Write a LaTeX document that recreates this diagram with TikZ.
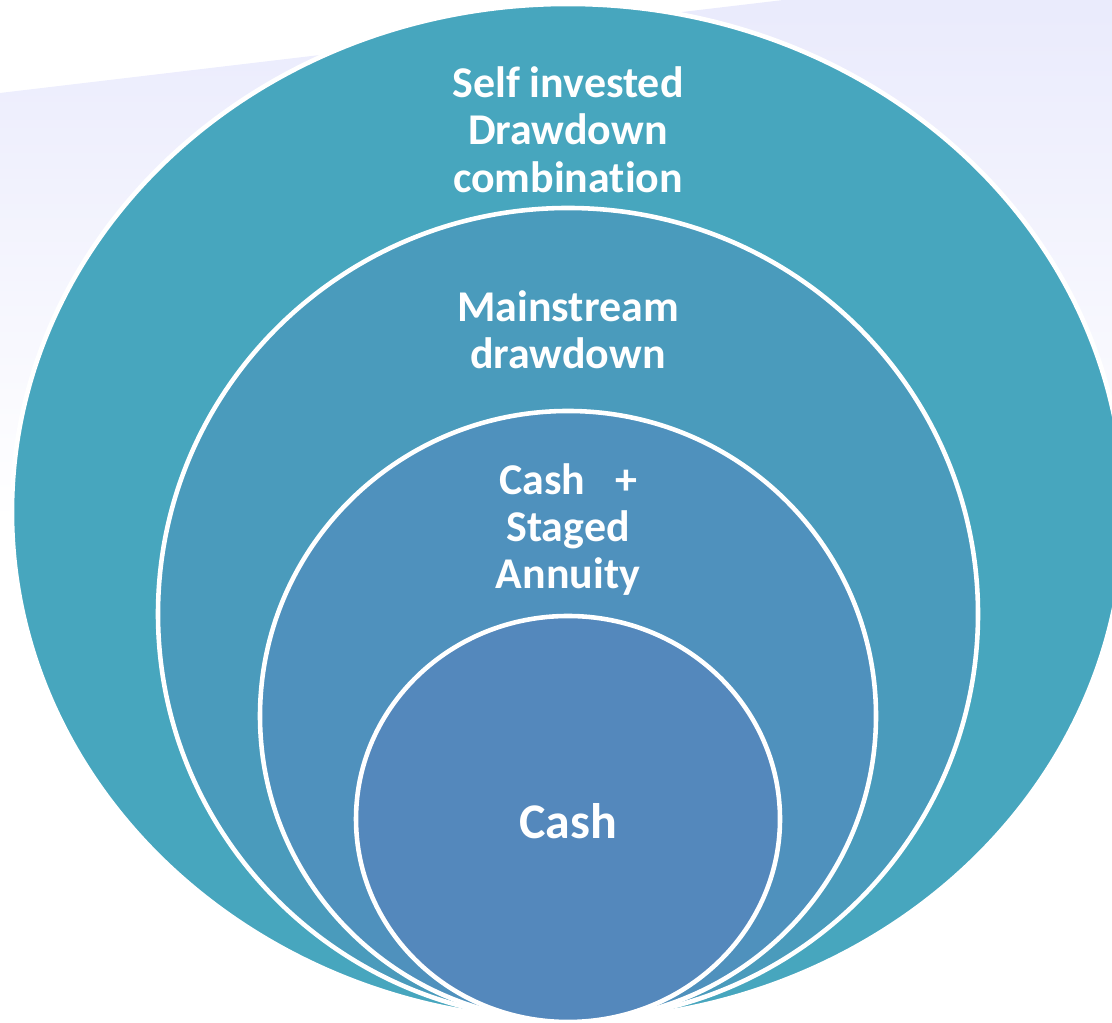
\documentclass[tikz,border=0pt]{standalone}
\usepackage{fontspec}
\setmainfont{Carlito}[Ligatures=NoCommon]
\usetikzlibrary{shapes.geometric,positioning}

\definecolor{haze}{HTML}{E8E9FC}
\definecolor{ringA}{HTML}{47A6BE}
\definecolor{ringB}{HTML}{4A9BBC}
\definecolor{ringC}{HTML}{4F91BD}
\definecolor{ringD}{HTML}{5488BC}

\begin{document}
\begin{tikzpicture}[%
    font=\bfseries,             % Bold labels throughout
    ]
% -------------------------------------------------
% Ring and label styles
\tikzset{
  ring/.style={ellipse, draw=white, inner sep=0pt, line width=1.3pt},
  lbl/.style={text=white, align=center, inner sep=0pt,
    font={\bfseries\fontsize{12.5}{13.4}\selectfont}},
  big/.style={text=white, font={\bfseries\fontsize{14.2}{15}\selectfont}}
}
\useasboundingbox (0,0) rectangle (11.12,10.23);
\clip (0,0) rectangle (11.12,10.23);
% -------------------------------------------------
% Backdrop sweep
\shade [top color=haze, bottom color=white]
  (0,9.30) -- (11.12,10.62) -- (11.12,5.0) -- (0,5.0) -- cycle;

% Rings, outermost first; all share the same bottom point
\node [ring, fill=ringA, minimum width=11.12cm, minimum height=10.16cm]
  (sipp) at (5.68,5.11) {};
\node [ring, fill=ringB, minimum width=8.20cm, minimum height=8.12cm]
  (main) at (5.68,4.09) {};
\node [ring, fill=ringC, minimum width=6.16cm, minimum height=6.10cm]
  (staged) at (5.68,3.07) {};
\node [ring, fill=ringD, minimum width=4.24cm, minimum height=4.06cm]
  (cash) at (5.68,2.04) {};

% Labels
\node [lbl] (sipptext) at ([yshift=-12.8mm]sipp.north)
  {Self invested\\Drawdown\\combination};
\node [lbl] (maintext) at ([yshift=-12.4mm]main.north)
  {Mainstream\\drawdown};
\node [lbl] (stagedtext) at ([yshift=-12.1mm]staged.north)
  {Cash\ \ \ +\\Staged\\Annuity};
\node [big] (cashtext) at ([yshift=-0.2mm]cash.center) {Cash};

% -------------------------------------------------
\end{tikzpicture}
\end{document}
